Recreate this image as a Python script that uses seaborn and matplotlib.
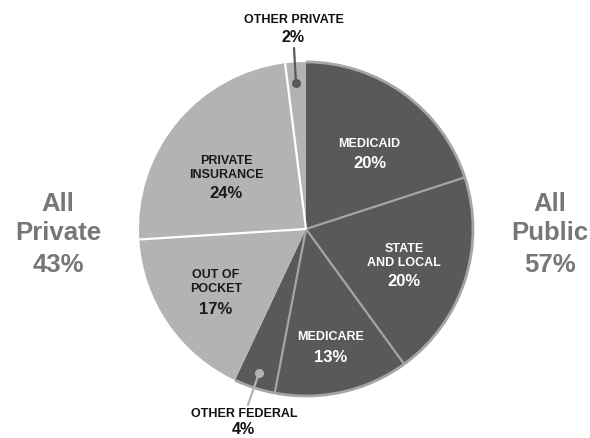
import numpy as np
import matplotlib
matplotlib.use("Agg")
import matplotlib.pyplot as plt
from matplotlib.patches import Arc
import seaborn as sns

# ---- data ----
categories = ["MEDICAID", "STATE\nAND LOCAL", "MEDICARE", "OTHER FEDERAL",
              "OUT OF\nPOCKET", "PRIVATE\nINSURANCE", "OTHER PRIVATE"]
shares = [20, 20, 13, 4, 17, 24, 2]
sector = ["public", "public", "public", "public", "private", "private", "private"]
group_words = [["All", "Private", "43%"], ["All", "Public", "57%"]]

sns.set_theme(style="white")
plt.rcParams["font.family"] = ["Liberation Sans", "DejaVu Sans"]

DARK = "#595959"
LIGHT = "#b3b3b3"
RIM = "#a5a5a5"
colors = [DARK if s == "public" else LIGHT for s in sector]
text_col = {"public": "white", "private": "#1a1a1a"}

PX = 167.0  # pixels per data unit (pie radius)
CX, CY = 306.0, 229.0


def d(px, py):
    return (px - CX) / PX, (CY - py) / PX


fig = plt.figure(figsize=(5.9, 4.38), dpi=100)
ax = fig.add_axes([0, 0, 1, 1])
wedges, _ = ax.pie(shares, colors=colors, startangle=90, counterclock=False,
                   radius=1.0, center=(0, 0),
                   wedgeprops=dict(edgecolor="none", linewidth=0))

# boundary lines: white between private slices, gray between public ones
cum = np.cumsum([0] + shares)
n = len(shares)
for i in range(n):
    a = np.deg2rad(90 - cum[i] / 100 * 360)
    if sector[i - 1] != sector[i]:
        continue
    col = "white" if sector[i] == "private" else RIM
    ax.plot([0, np.cos(a)], [0, np.sin(a)], color=col, lw=1.6, zorder=3,
            solid_capstyle="butt")

# gray rim around the public slices
for i in range(n):
    if sector[i] != "public":
        continue
    t2 = 90 - cum[i] / 100 * 360
    t1 = 90 - cum[i + 1] / 100 * 360
    ax.add_patch(Arc((0, 0), 2.0, 2.0, theta1=t1, theta2=t2, color=RIM,
                     lw=2.0, zorder=3))

# inside labels: (name centre, percent centre) in pixels
inside = {
    0: ((369, 144), (370, 163)),
    1: ((404, 256), (404, 282)),
    2: ((331, 337), (331, 357)),
    4: ((216, 282), (216, 310)),
    5: ((226, 168), (226, 194)),
}
for i, ((nx, ny), (vx, vy)) in inside.items():
    c = text_col[sector[i]]
    ax.text(*d(nx, ny), categories[i], ha="center", va="center", color=c,
            fontsize=9, fontweight="bold", linespacing=1.15, zorder=5)
    ax.text(*d(vx, vy), f"{shares[i]}%", ha="center", va="center", color=c,
            fontsize=12, fontweight="bold", zorder=5)

# outside labels with leader lines and dots
outside = {
    6: ((294, 20), (293, 38), (296, 83), (294, 48)),
    3: ((244, 414), (243, 429), (259, 373), (248, 405)),
}
for i, ((nx, ny), (vx, vy), (dx_, dy_), (lx, ly)) in outside.items():
    ax.text(*d(nx, ny), categories[i], ha="center", va="center", color="#111111",
            fontsize=9, fontweight="bold", zorder=5)
    ax.text(*d(vx, vy), f"{shares[i]}%", ha="center", va="center", color="#111111",
            fontsize=11.5, fontweight="bold", zorder=5)
    dot_col = LIGHT if sector[i] == "public" else DARK
    x0, y0 = d(dx_, dy_)
    x1, y1 = d(lx, ly)
    ax.plot([x0, x1], [y0, y1], color=dot_col, lw=1.6, zorder=6)
    ax.plot([x0], [y0], "o", color=dot_col, ms=5.5, zorder=7)

# group labels
for words, gx in zip(group_words, [58, 550]):
    for w, gy in zip(words, [204, 233, 265]):
        ax.text(*d(gx, gy), w, ha="center", va="center", color="#777777",
                fontsize=18.5, fontweight="bold")

ax.set_xlim(-CX / PX, (590 - CX) / PX)
ax.set_ylim((CY - 438) / PX, CY / PX)
ax.set_aspect("equal")
ax.axis("off")
fig.savefig("out.png", dpi=100, facecolor="white")
